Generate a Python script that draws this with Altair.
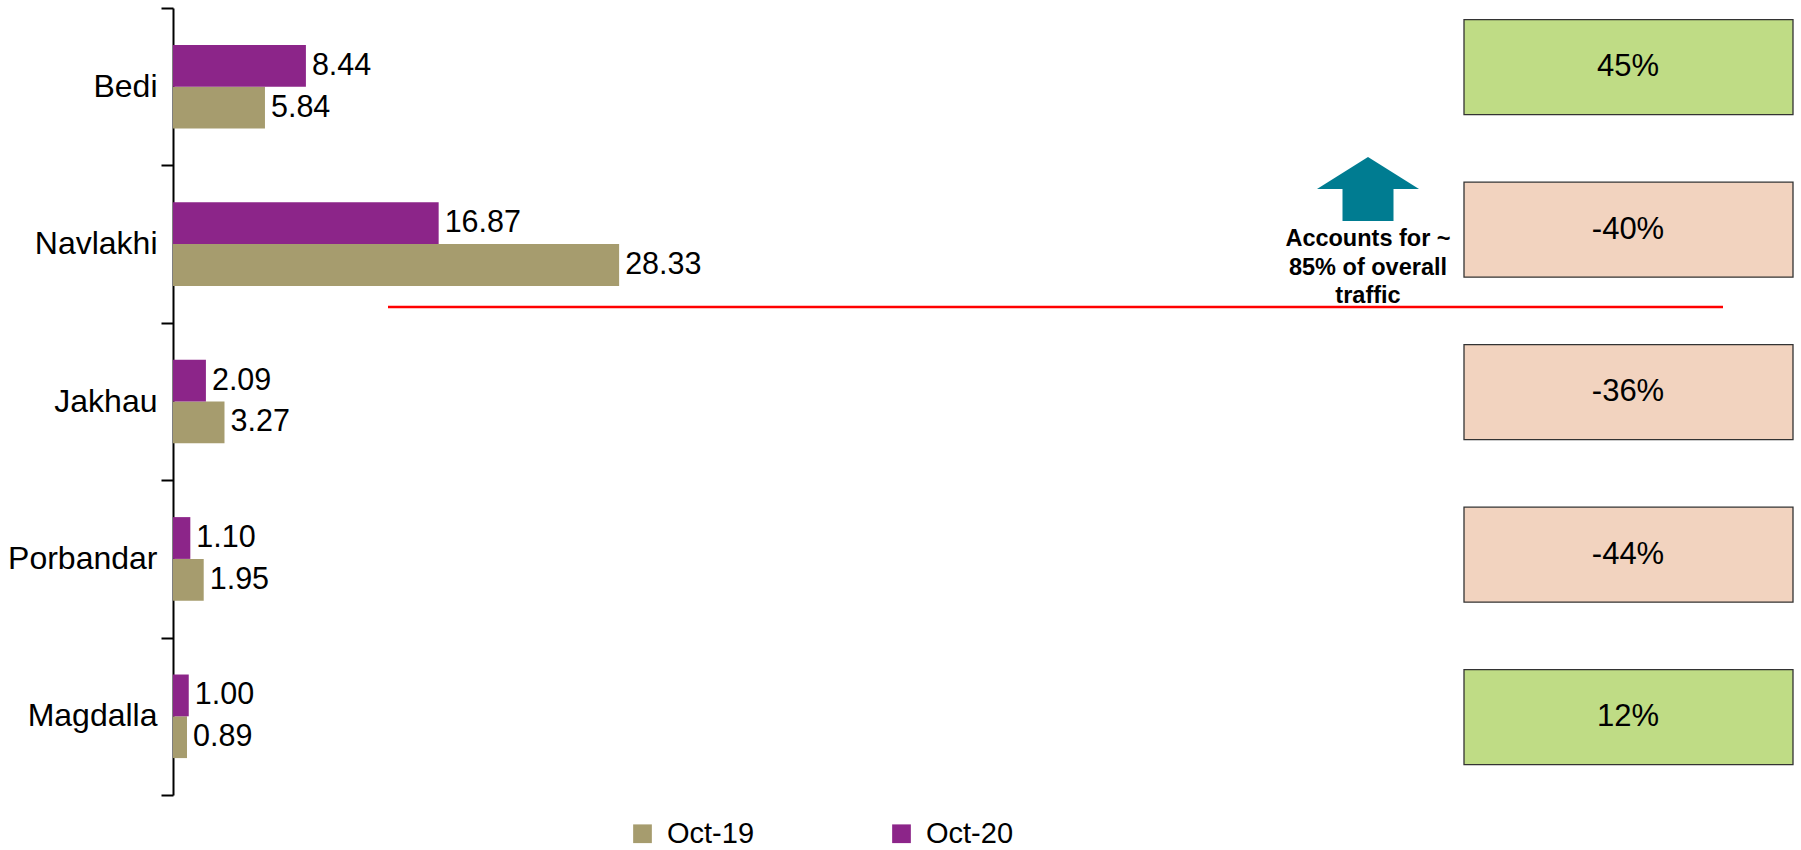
import altair as alt
import pandas as pd

# ---- data ----
ports = ["Bedi", "Navlakhi", "Jakhau", "Porbandar", "Magdalla"]
oct19 = [5.84, 28.33, 3.27, 1.95, 0.89]
oct20 = [8.44, 16.87, 2.09, 1.10, 1.00]
growth = [45, -40, -36, -44, 12]
periods = ["Oct-19", "Oct-20"]
note_lines = ["Accounts for ~", "85% of overall", "traffic"]
boundaries = [0, 1, 2, 3, 4, 5]

FONT = "Liberation Sans"

bars_df = pd.DataFrame({
    "port": ports * 2,
    "period": [periods[0]] * len(ports) + [periods[1]] * len(ports),
    "value": oct19 + oct20,
})
bars_df["label"] = bars_df["value"].map(lambda v: f"{v:.2f}")

growth_df = pd.DataFrame({"port": ports, "growth": growth})
growth_df["label"] = growth_df["growth"].map(lambda g: f"{g}%")
growth_df["sign"] = growth_df["growth"].map(lambda g: "up" if g >= 0 else "down")

one = pd.DataFrame({"k": [0]})

# ---- bars ----
y_band = alt.Y(
    "port:N",
    sort=ports,
    scale=alt.Scale(domain=ports, paddingInner=0.469, paddingOuter=0.2345),
    axis=alt.Axis(title=None, ticks=False, domain=False, labelFontSize=32,
                  labelColor="black", labelFont=FONT, labelPadding=16,
                  orient="left", labelLimit=300),
)
y_off = alt.YOffset("period:N", sort=["Oct-20", "Oct-19"])
x_val = alt.X("value:Q", scale=alt.Scale(domain=[0, 103], nice=False), axis=None)

bars = alt.Chart(bars_df).mark_bar().encode(
    x=x_val,
    y=y_band,
    yOffset=y_off,
    color=alt.Color(
        "period:N",
        scale=alt.Scale(domain=periods, range=["#A69C6E", "#8C2589"]),
        legend=alt.Legend(title=None, orient="none", legendX=455, legendY=811,
                          direction="horizontal", symbolType="square",
                          symbolSize=350, symbolStrokeWidth=0,
                          labelFontSize=29, labelFont=FONT, labelColor="black",
                          labelOffset=10, columnPadding=132),
    ),
)
values = alt.Chart(bars_df).mark_text(
    align="left", baseline="middle", dx=6, fontSize=30.5, font=FONT, color="black"
).encode(x=x_val, y=y_band, yOffset=y_off, text="label:N")

bar_layer = alt.layer(bars, values)

# ---- category boundary ticks + red separator ----
sep = alt.Chart(one).mark_rule(color="#FF0000", strokeWidth=2.5).encode(
    x=alt.value(215),
    x2=alt.value(1550),
    y=alt.YDatum(
        1.9, type="quantitative",
        scale=alt.Scale(domain=[boundaries[0], boundaries[-1]], reverse=True,
                        nice=False, zero=False),
        axis=alt.Axis(values=boundaries, labels=False, tickSize=12, tickWidth=2,
                      tickColor="black", domainColor="black", domainWidth=2,
                      grid=False, title=None, orient="left"),
    ),
)

# ---- growth boxes ----
y_pt = alt.Y("port:N", sort=ports,
             scale=alt.Scale(type="point", domain=ports, range=[59.2, 709.2], padding=0),
             axis=None)
boxes = alt.Chart(growth_df).mark_bar(
    orient="horizontal", size=95, stroke="#333333", strokeWidth=1.3
).encode(
    x=alt.value(1291),
    x2=alt.value(1620),
    y=y_pt,
    fill=alt.Fill("sign:N", scale=alt.Scale(domain=["up", "down"],
                                           range=["#BFDC85", "#F2D3BF"]),
                  legend=None),
)
box_text = alt.Chart(growth_df).mark_text(
    align="center", baseline="middle", fontSize=31, font=FONT, color="black"
).encode(x=alt.value(1455), y=y_pt, text="label:N")
box_layer = alt.layer(boxes, box_text)

# ---- arrow + note ----
arrow_path = "M0,-0.627 L1,0 L0.5,0 L0.5,0.627 L-0.5,0.627 L-0.5,0 L-1,0 Z"
arrow = alt.Chart(one).mark_point(
    shape=arrow_path, size=10404, filled=True, color="#007C91", opacity=1, strokeWidth=0
).encode(x=alt.value(1195), y=alt.value(181))
note = alt.Chart(one).mark_text(
    align="center", baseline="alphabetic", fontSize=23.5, fontWeight="bold",
    font=FONT, color="black", lineHeight=28.5
).encode(x=alt.value(1195), y=alt.value(238), text=alt.value(note_lines))

chart = alt.layer(bar_layer, sep, box_layer, arrow, note).resolve_scale(
    y="independent", color="independent", fill="independent"
).properties(
    width=1622, height=787,
    autosize=alt.AutoSizeParams(type="none"),
    padding={"left": 173, "top": 8, "right": 6, "bottom": 55},
    background="white",
).configure_view(stroke=None)

chart.save("out.html", embed_options={"renderer": "svg", "actions": False})
